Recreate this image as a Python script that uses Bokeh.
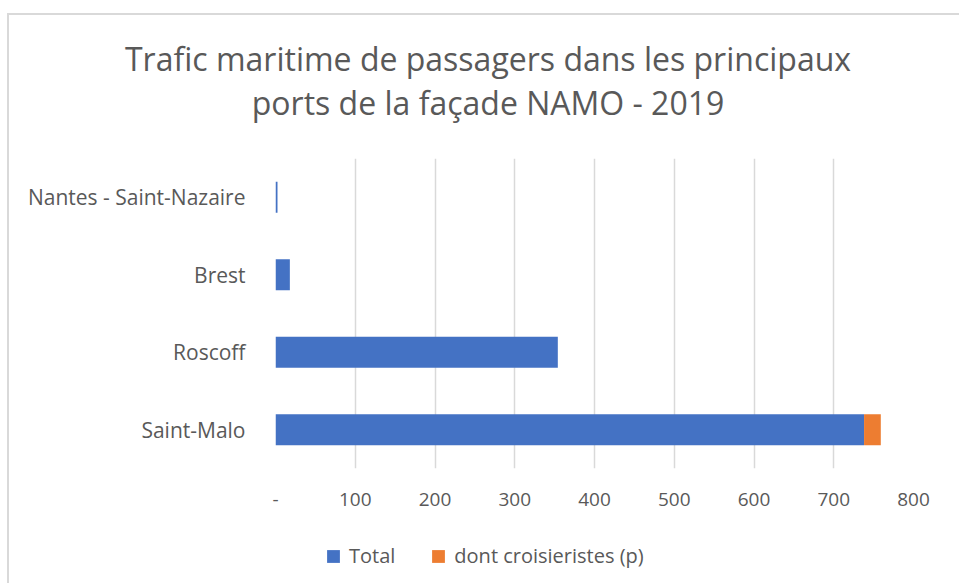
from bokeh.plotting import figure
from bokeh.layouts import column
from bokeh.models import (ColumnDataSource, FactorRange, Range1d, FixedTicker,
                          Legend, LegendItem, Div)
from bokeh.embed import file_html
from bokeh.resources import INLINE

# Data (thousands of passengers, 2019)
ports = ["Saint-Malo", "Roscoff", "Brest", "Nantes - Saint-Nazaire"]
total = [738, 354, 18, 2.5]
croisieristes = [21, 0, 0, 0]
series_labels = ["Total", "dont croisieristes (p)"]
series_colors = ["#4472C4", "#ED7D31"]
x_ticks = [0, 100, 200, 300, 400, 500, 600, 700, 800]
title_lines = ["Trafic maritime de passagers dans les principaux",
               "ports de la façade NAMO - 2019"]

FONT = "Open Sans"
GREY = "#595959"
W = 950

# ---- title (HTML text block)
title = Div(
    text=('<div style="width:942px;margin-left:8px;padding-top:22px;'
          'text-align:center;font-family:\'Open Sans\';font-size:32px;'
          'line-height:44px;color:%s;white-space:nowrap">%s<br>%s</div>')
    % (GREY, title_lines[0], title_lines[1]),
    width=W, height=143, margin=0)

# ---- main chart
source = ColumnDataSource(dict(port=ports, total=total, crois=croisieristes))
p = figure(width=W, height=370, output_backend="svg", toolbar_location=None,
           y_range=FactorRange(*ports, range_padding=0), x_range=Range1d(0, 800),
           min_border_left=266, min_border_right=46, min_border_top=0,
           min_border_bottom=60)
p.outline_line_color = None
p.hbar_stack(["total", "crois"], y="port", height=0.4, source=source,
             color=series_colors, line_color=None)

p.xaxis.ticker = FixedTicker(ticks=x_ticks)
p.xaxis.major_label_overrides = {0: "-"}
p.xaxis.axis_line_color = None
p.xaxis.major_tick_line_color = None
p.xaxis.minor_tick_line_color = None
p.xaxis.major_tick_out = 0
p.xaxis.major_label_standoff = 24
p.xaxis.major_label_text_font = FONT
p.xaxis.major_label_text_font_size = "19px"
p.xaxis.major_label_text_color = GREY

p.yaxis.axis_line_color = None
p.yaxis.major_tick_line_color = None
p.yaxis.minor_tick_line_color = None
p.yaxis.major_tick_out = 0
p.yaxis.major_label_standoff = 30
p.yaxis.major_label_text_font = FONT
p.yaxis.major_label_text_font_size = "21px"
p.yaxis.major_label_text_color = GREY

p.ygrid.grid_line_color = None
p.xgrid.grid_line_color = "#d9d9d9"
p.xgrid.grid_line_width = 1.5

# ---- legend strip: the series renderers here map to no visible category,
# so only their legend entries are drawn
pl = figure(width=W, height=55, output_backend="svg", toolbar_location=None,
            x_axis_location=None, y_axis_location=None,
            x_range=Range1d(0, 800), y_range=FactorRange("legend"), min_border=0)
pl.outline_line_color = None
pl.grid.visible = False
rs = pl.hbar_stack(["total", "crois"], y="port", height=0.4, source=source,
                   color=series_colors, line_color=None)
legend = Legend(items=[LegendItem(label=lab, renderers=[r])
                       for lab, r in zip(series_labels, rs)],
                location=(50, 14), orientation="horizontal",
                border_line_color=None, background_fill_alpha=0, padding=5,
                spacing=35, label_standoff=8, glyph_width=16, glyph_height=16,
                label_text_font=FONT, label_text_font_size="20px",
                label_text_color=GREY, margin=0)
pl.add_layout(legend)

layout = column(title, p, pl, spacing=0)
layout.styles = {"border-left": "2px solid #d9d9d9", "border-top": "2px solid #d9d9d9",
                 "margin-top": "13px", "margin-left": "7px"}

open("out.html", "w").write(file_html(layout, INLINE))
